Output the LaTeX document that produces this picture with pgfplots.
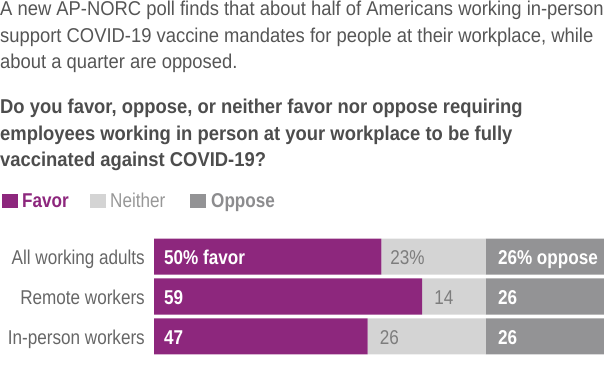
\documentclass[border=0pt]{standalone}
\usepackage{fontspec}
\setmainfont{Liberation Sans}[FakeStretch=0.855]
\newfontfamily\titlefont{Liberation Sans}[FakeStretch=0.92]
\usepackage{pgfplots}
\pgfplotsset{compat=1.18}
\definecolor{favor}{RGB}{141,39,125}
\definecolor{neither}{RGB}{212,212,212}
\definecolor{oppose}{RGB}{147,147,149}
\definecolor{titlegray}{RGB}{85,85,85}
\definecolor{qgray}{RGB}{77,77,77}
\definecolor{catgray}{RGB}{102,102,102}
\definecolor{neitherlab}{RGB}{125,125,125}
\begin{document}
\begin{tikzpicture}
\useasboundingbox (0,0) rectangle (612bp,374bp);
\fontsize{20bp}{26bp}\selectfont
% title
\begin{scope}[every node/.style={anchor=base west, inner sep=0pt, font=\titlefont\fontsize{20bp}{26bp}\selectfont}]
\node[text=titlegray] at (0bp,358bp) {A new AP-NORC poll finds that about half of Americans working in-person};
\node[text=titlegray] at (0bp,331.5bp) {support COVID-19 vaccine mandates for people at their workplace, while};
\node[text=titlegray] at (0bp,305.5bp) {about a quarter are opposed.};
\end{scope}
% question
\begin{scope}[every node/.style={anchor=base west, inner sep=0pt, font=\titlefont\bfseries\fontsize{20bp}{26bp}\selectfont}]
\node[text=qgray] at (0bp,260bp) {Do you favor, oppose, or neither favor nor oppose requiring};
\node[text=qgray] at (0bp,233.5bp) {employees working in person at your workplace to be fully};
\node[text=qgray] at (0bp,207bp) {vaccinated against COVID-19?};
\end{scope}
% legend
\fill[favor] (2bp,166bp) rectangle (18bp,180bp);
\node[anchor=base west, inner sep=0pt, text=favor, font=\bfseries] at (22bp,166bp) {Favor};
\fill[neither] (90bp,166bp) rectangle (106bp,180bp);
\node[anchor=base west, inner sep=0pt, text=neitherlab!80] at (110bp,166bp) {Neither};
\fill[oppose] (190bp,166bp) rectangle (206bp,180bp);
\node[anchor=base west, inner sep=0pt, text=oppose!95!black, font=\bfseries] at (211bp,166bp) {Oppose};
\begin{axis}[
  at={(154bp,17.5bp)}, anchor=south west,
  scale only axis, width=450bp, height=120bp,
  xmin=0, xmax=99, ymin=-0.5, ymax=2.5,
  hide axis, xbar stacked, bar width=36bp,
  clip=false,
]
\addplot[fill=favor, draw=none] coordinates {(50,2) (59,1) (47,0)};
\addplot[fill=neither, draw=none] coordinates {(23,2) (14,1) (26,0)};
\addplot[fill=oppose, draw=none] coordinates {(26,2) (26,1) (26,0)};
\coordinate (c2) at (axis cs:0,2);
\coordinate (c1) at (axis cs:0,1);
\coordinate (c0) at (axis cs:0,0);
\coordinate (n2) at (axis cs:50,2);
\coordinate (n1) at (axis cs:59,1);
\coordinate (n0) at (axis cs:47,0);
\coordinate (o2) at (axis cs:73,2);
\coordinate (o1) at (axis cs:73,1);
\coordinate (o0) at (axis cs:73,0);
\end{axis}
% category labels
\begin{scope}[every node/.style={inner sep=0pt, yshift=-8bp}]
\node[anchor=base east, text=catgray, xshift=-9bp] at (c2) {All working adults};
\node[anchor=base east, text=catgray, xshift=-9bp] at (c1) {Remote workers};
\node[anchor=base east, text=catgray, xshift=-9bp] at (c0) {In-person workers};
% favor labels
\node[anchor=base west, text=white, font=\bfseries, xshift=10bp] at (c2) {50\% favor};
\node[anchor=base west, text=white, font=\bfseries, xshift=10bp] at (c1) {59};
\node[anchor=base west, text=white, font=\bfseries, xshift=10bp] at (c0) {47};
% neither labels
\node[anchor=base west, text=neitherlab, xshift=9bp] at (n2) {23\%};
\node[anchor=base west, text=neitherlab, xshift=12bp] at (n1) {14};
\node[anchor=base west, text=neitherlab, xshift=12bp] at (n0) {26};
% oppose labels
\node[anchor=base west, text=white, font=\bfseries, xshift=12bp] at (o2) {26\% oppose};
\node[anchor=base west, text=white, font=\bfseries, xshift=12bp] at (o1) {26};
\node[anchor=base west, text=white, font=\bfseries, xshift=12bp] at (o0) {26};
\end{scope}
\end{tikzpicture}
\end{document}
